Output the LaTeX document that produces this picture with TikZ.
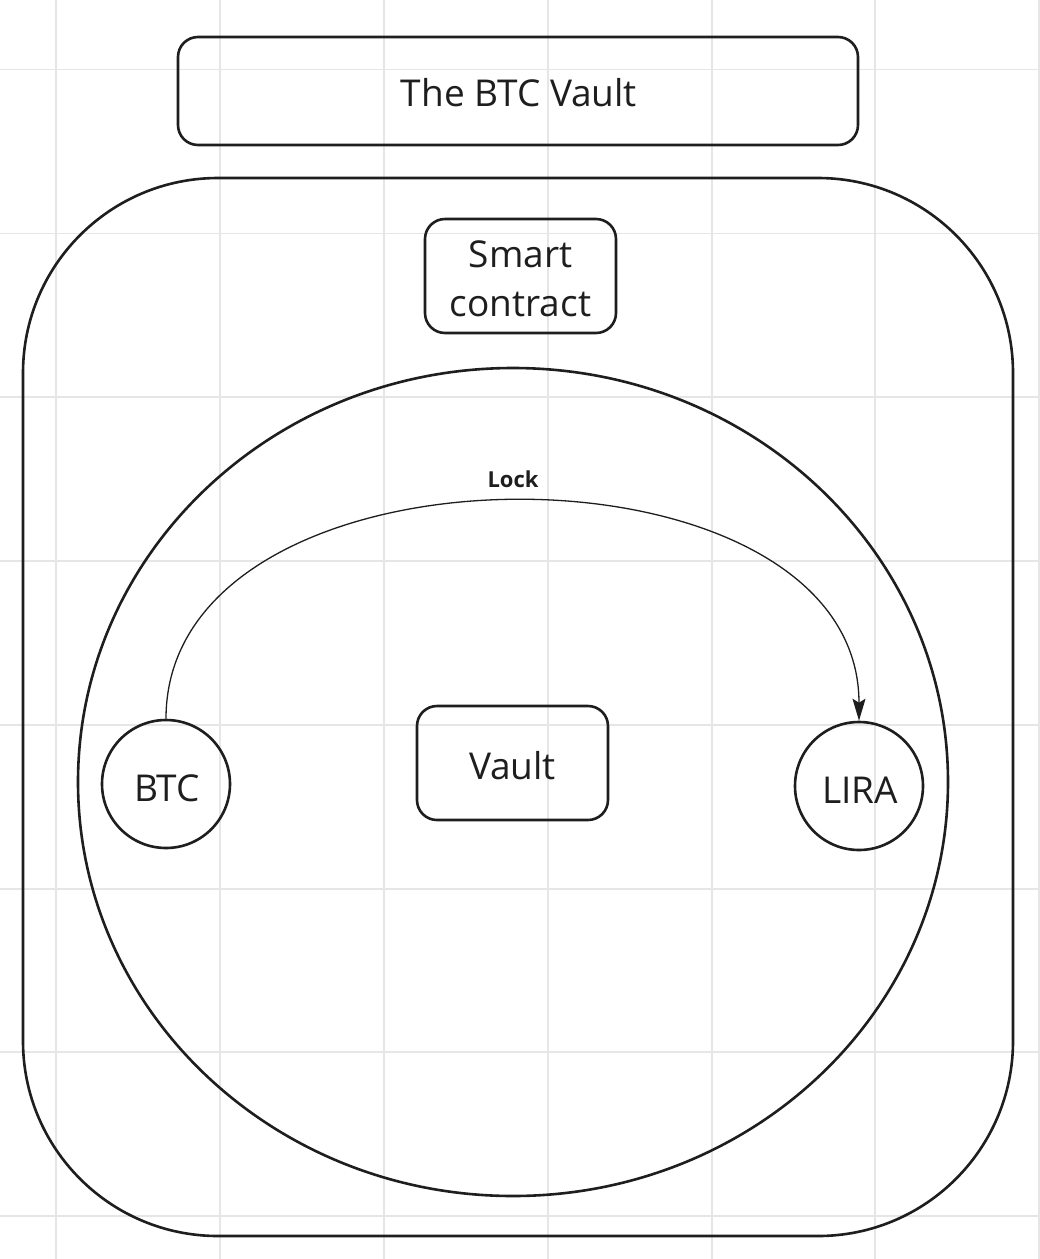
\documentclass[tikz,border=0pt]{standalone}
\usepackage{fontspec}
\setmainfont{Open Sans}
\usetikzlibrary{arrows.meta,shapes.geometric}
\definecolor{ink}{HTML}{1E1E1E}
\definecolor{gridc}{HTML}{E6E6E6}
\tikzset{
  shp/.style={draw=ink, line width=2.6pt, text=ink, inner sep=0pt, font=\fontsize{37}{49}\selectfont, align=center},
  rbox/.style={shp, rectangle, rounded corners=20pt},
  circ/.style={shp, circle, minimum size=128pt},
  conn/.style={draw=ink, line width=1.3pt, -{Stealth[length=22pt,width=13pt,inset=4pt]}},
  lbl/.style={text=ink, font=\fontsize{22}{26}\selectfont\bfseries, inner sep=0pt}
}
\begin{document}
\begin{tikzpicture}[x=1pt,y=-1pt]
\useasboundingbox (0,0) rectangle (1040,1259);
\fill[white] (0,0) rectangle (1040,1259);
% grid
\foreach \gx in {56,220,384,548,712,875,1039}
  \draw[gridc, line width=1.5pt] (\gx,0) -- (\gx,1259);
\foreach \gy in {69.5,233.5,397,561,725,889,1052,1216}
  \draw[gridc, line width=1.5pt] (0,\gy) -- (1040,\gy);
% shapes
\node[rbox, minimum width=680pt, minimum height=108pt] (title) at (518,91) {};
\node[shp, rectangle, rounded corners=195pt, minimum width=990pt, minimum height=1058pt] (outer) at (518,707) {};
\node[rbox, minimum width=191pt, minimum height=114pt] (smart) at (520.5,276) {};
\node[shp, ellipse, minimum width=870pt, minimum height=828pt] (vaultell) at (513,782) {};
\node[rbox, minimum width=191pt, minimum height=114pt] (vault) at (512.5,763) {};
\node[circ] (btc) at (166,784) {};
\node[circ] (lira) at (859,786) {};
% texts
\node[shp, draw=none] (titlet) at (519,93) {The BTC Vault};
\node[shp, draw=none] (smartt) at (520.5,279) {Smart\\contract};
\node[shp, draw=none] (vaultt) at (512.5,766) {Vault};
\node[shp, draw=none] (btct) at (167,788) {BTC};
\node[shp, draw=none] (lirat) at (860,790) {LIRA};
% connector
\draw[conn] (btc.north) .. controls +(0,-290) and +(0,-292) .. (lira.north);
\node[lbl] (lock) at (513,479) {Lock};
\end{tikzpicture}
\end{document}
